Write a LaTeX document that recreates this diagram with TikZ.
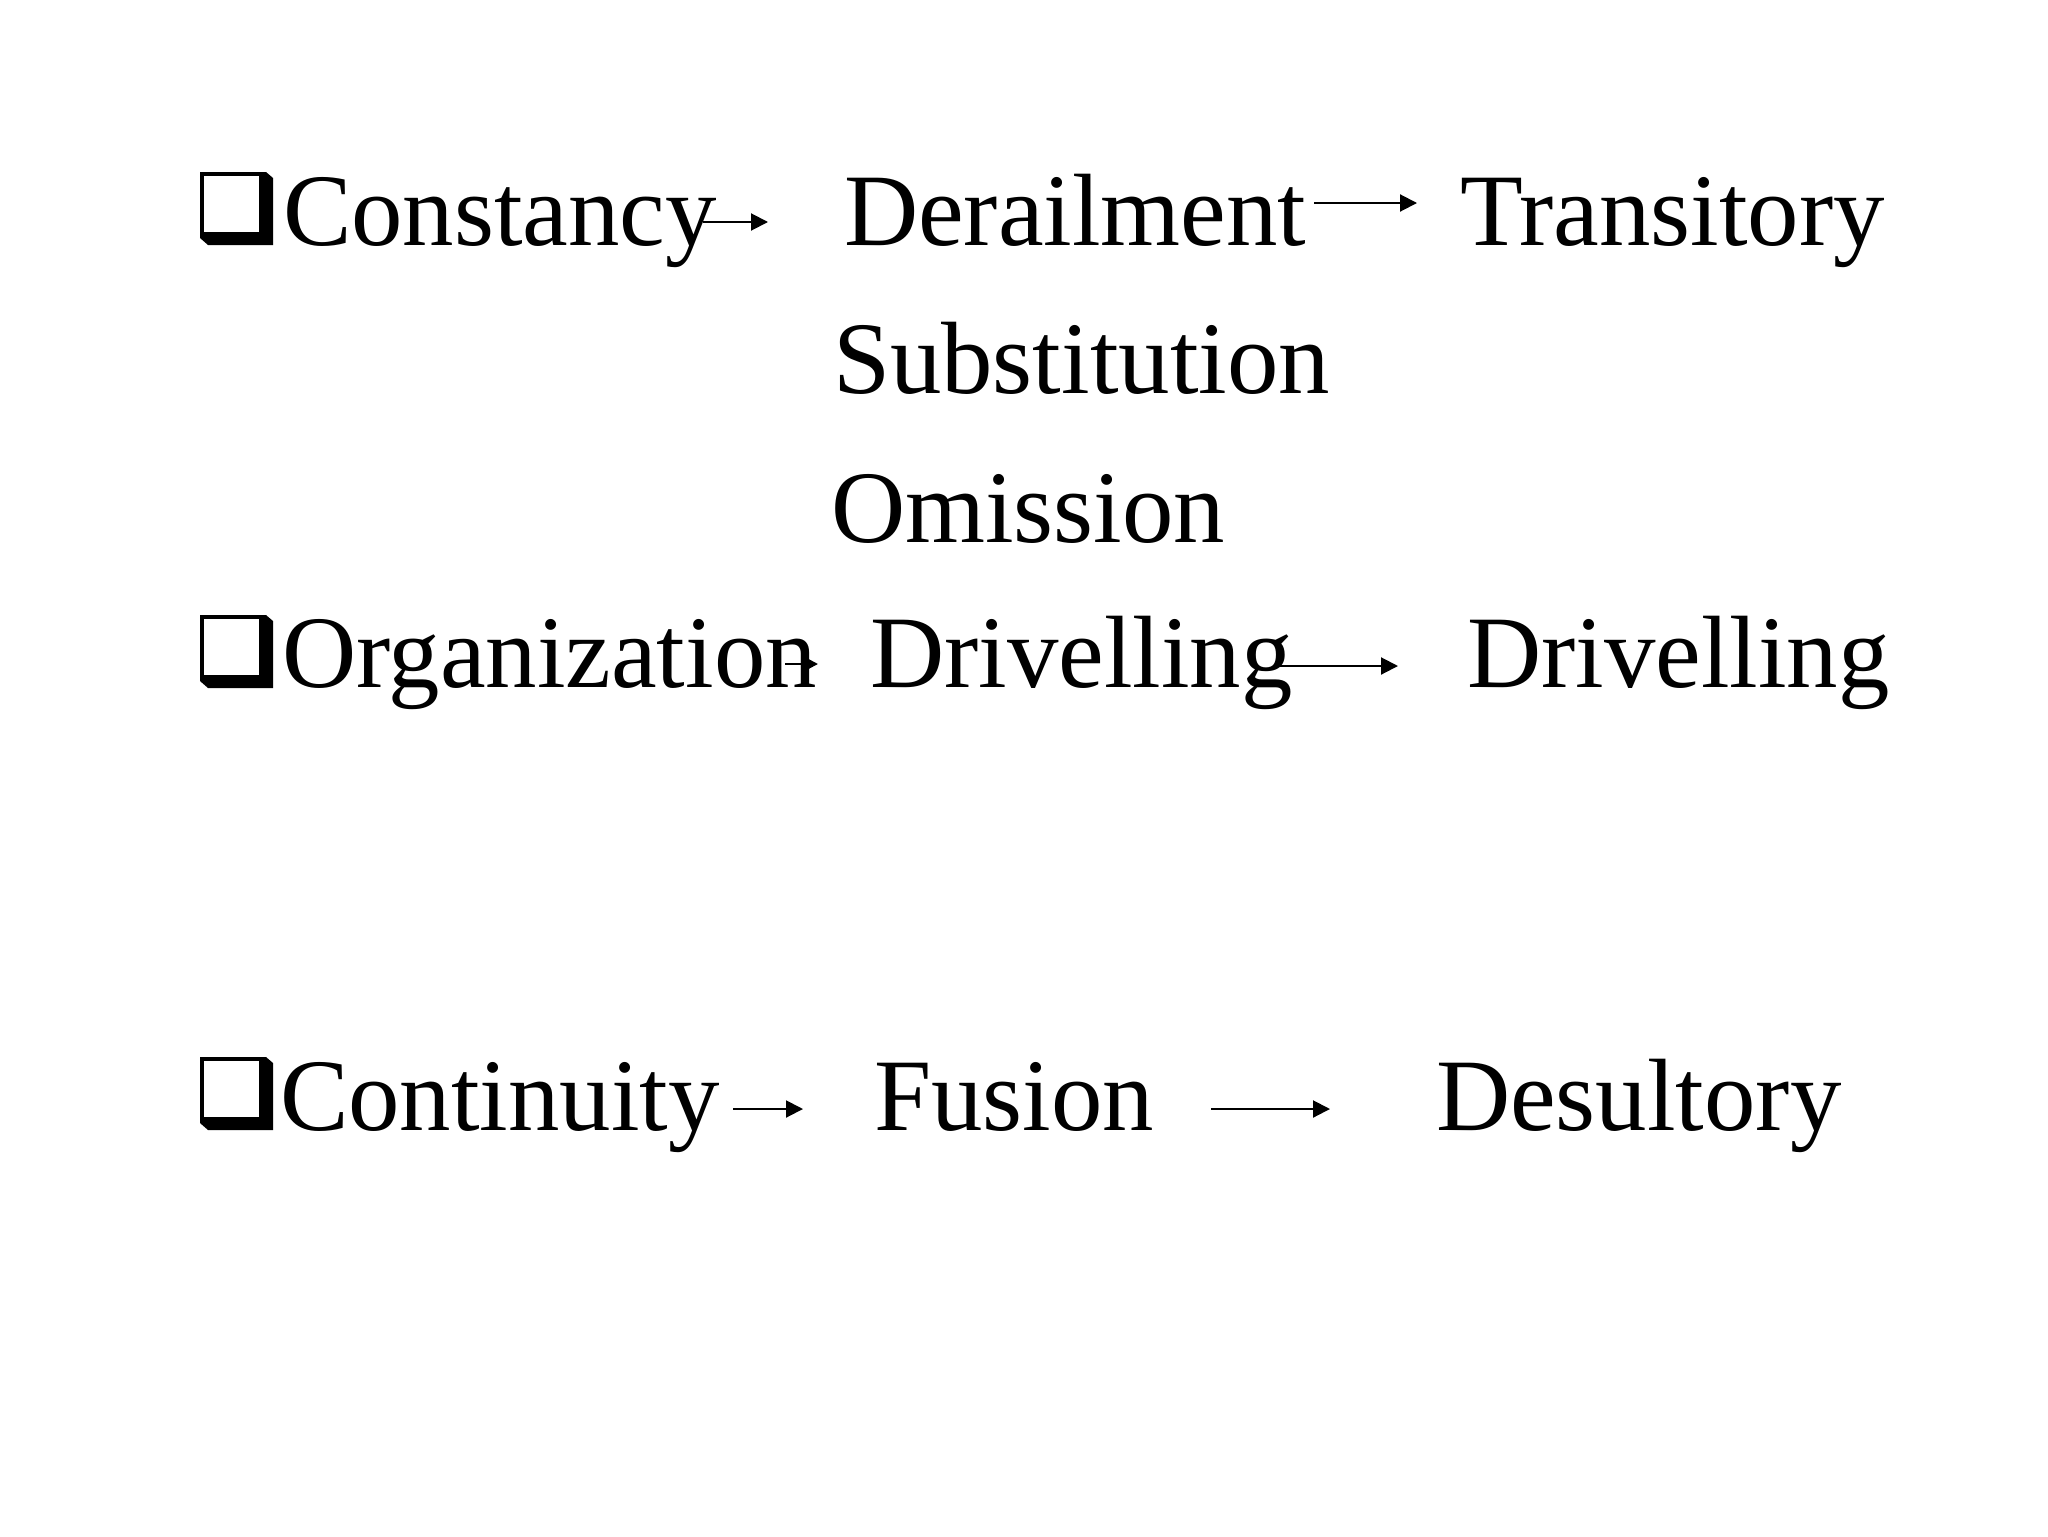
\documentclass[tikz,border=0pt]{standalone}
\usepackage{fontspec}
\setmainfont{Liberation Serif}
\usetikzlibrary{arrows.meta}
\tikzset{
  word/.style={anchor=base west, inner sep=0pt, outer sep=0pt, font=\fontsize{51.4pt}{61pt}\selectfont},
  arr/.style={line width=1pt, -{Triangle[length=8.5pt,width=8.5pt]}},
  smallarr/.style={line width=1pt, -{Triangle[length=5pt,width=5pt]}},
  qbox/.pic={
    \fill[black] (0,-73) -- (66,-73) -- (73,-67) -- (73,0) -- (8,0) -- (0,-7) -- cycle;
    \fill[white] (4,-69) rectangle (59,-13);
  }
}
\begin{document}
\begin{tikzpicture}[x=0.5pt, y=-0.5pt]
\fill[white] (0,0) rectangle (2048,1536);
\useasboundingbox (0,0) rectangle (2048,1536);
% bullets
\pic at (200,245) {qbox};
\pic at (200,688) {qbox};
\pic at (200,1130) {qbox};
% words
\node[word] (cons) at (283,245) {Constancy};
\node[word] (dera) at (844,245) {Derailment};
\node[word] (tran) at (1460,245) {Transitory};
\node[word] (subs) at (833,393) {Substitution};
\node[word] (omis) at (831,542) {Omission};
\node[word] (orga) at (282,687) {Organization};
\node[word] (driA) at (870,687) {Drivelling};
\node[word] (driB) at (1467,687) {Drivelling};
\node[word] (cont) at (280,1130) {Continuity};
\node[word] (fusi) at (874,1130) {Fusion};
\node[word] (desu) at (1436,1130) {Desultory};
% arrow end points
\coordinate (a1s) at (703,222);  \coordinate (a1e) at (768,222);
\coordinate (a2s) at (1314,203); \coordinate (a2e) at (1417,203);
\coordinate (a3s) at (785,664);  \coordinate (a3e) at (818,664);
\coordinate (a4s) at (1279,666); \coordinate (a4e) at (1398,666);
\coordinate (a5s) at (733,1109); \coordinate (a5e) at (803,1109);
\coordinate (a6s) at (1211,1109); \coordinate (a6e) at (1330,1109);
\draw[arr] (a1s) -- (a1e);
\draw[arr] (a2s) -- (a2e);
\draw[smallarr] (a3s) -- (a3e);
\draw[arr] (a4s) -- (a4e);
\draw[arr] (a5s) -- (a5e);
\draw[arr] (a6s) -- (a6e);
\end{tikzpicture}
\end{document}
